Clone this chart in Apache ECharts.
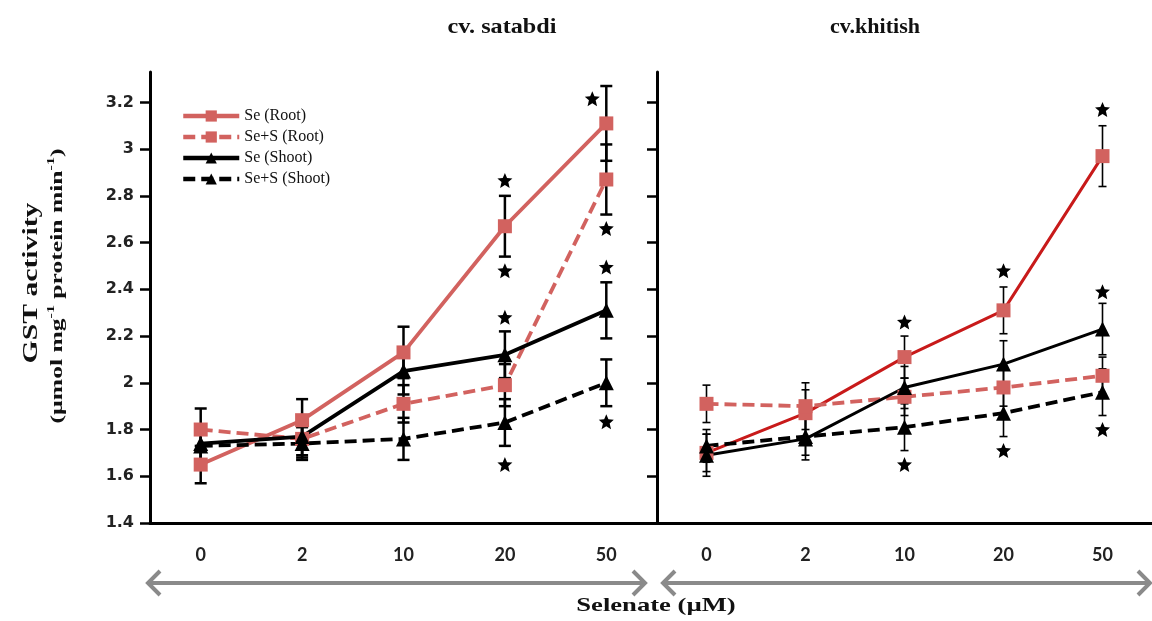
<!DOCTYPE html>
<html>
<head>
<meta charset="utf-8">
<script src="https://cdn.jsdelivr.net/npm/echarts@6/dist/echarts.min.js"></script>
<style>html,body{margin:0;padding:0;background:#fff}#c{width:1152px;height:621px}</style>
</head>
<body>
<div id="c"></div>
<script>
var categories = ['0', '2', '10', '20', '50'];
var yTicks = [1.4, 1.6, 1.8, 2.0, 2.2, 2.4, 2.6, 2.8, 3.0, 3.2];

// cv. satabdi
var satSeRoot    = [1.65, 1.84, 2.13, 2.67, 3.11];
var satSeSRoot   = [1.80, 1.76, 1.91, 1.99, 2.87];
var satSeShoot   = [1.74, 1.77, 2.05, 2.12, 2.31];
var satSeSShoot  = [1.73, 1.74, 1.76, 1.83, 2.00];
var satErrSeRoot   = [0.08, 0.09, 0.11, 0.13, 0.16];
var satErrSeSRoot  = [0.09, 0.08, 0.08, 0.09, 0.15];
var satErrSeShoot  = [0.08, 0.08, 0.10, 0.10, 0.12];
var satErrSeSShoot = [0.07, 0.07, 0.09, 0.10, 0.10];
var satStars = [[3, 2.866], [3, 2.48], [3, 2.28], [3, 1.65], [4, 2.66], [4, 2.495], [4, 1.833]];
var satStarsShifted = [[4, 3.216]];

// cv. khitish
var khiSeRoot    = [1.70, 1.87, 2.11, 2.31, 2.97];
var khiSeSRoot   = [1.91, 1.90, 1.94, 1.98, 2.03];
var khiSeShoot   = [1.69, 1.76, 1.98, 2.08, 2.23];
var khiSeSShoot  = [1.73, 1.77, 1.81, 1.87, 1.96];
var khiErrSeRoot   = [0.08, 0.10, 0.09, 0.10, 0.13];
var khiErrSeSRoot  = [0.08, 0.10, 0.08, 0.08, 0.08];
var khiErrSeShoot  = [0.09, 0.09, 0.09, 0.10, 0.11];
var khiErrSeSShoot = [0.07, 0.08, 0.10, 0.10, 0.10];
var khiStars = [[2, 2.26], [2, 1.65], [3, 2.48], [3, 1.71], [4, 3.17], [4, 2.39], [4, 1.80]];

var SALMON = '#D2625F';
var RED = '#C81A1A';
var STAR = 'path://M50,0 L64,32 L99,35 L72,58 L81,95 L50,76 L19,95 L28,58 L1,35 L36,32 Z';

function errData(vals, errs) {
  return vals.map(function (v, i) { return [i, v - errs[i], v + errs[i]]; });
}
function errSeries(vals, errs, idx, cap, lw) {
  return {
    type: 'custom', xAxisIndex: idx, yAxisIndex: idx, z: 3, silent: true,
    data: errData(vals, errs),
    renderItem: function (params, api) {
      var lo = api.coord([api.value(0), api.value(1)]);
      var hi = api.coord([api.value(0), api.value(2)]);
      var st = { stroke: '#000', lineWidth: lw };
      return { type: 'group', children: [
        { type: 'line', shape: { x1: lo[0], y1: lo[1], x2: hi[0], y2: hi[1] }, style: st },
        { type: 'line', shape: { x1: lo[0] - cap, y1: lo[1], x2: lo[0] + cap, y2: lo[1] }, style: st },
        { type: 'line', shape: { x1: hi[0] - cap, y1: hi[1], x2: hi[0] + cap, y2: hi[1] }, style: st }
      ]};
    }
  };
}
function lineSeries(name, vals, idx, color, symColor, symbol, dashed, lw) {
  return {
    name: name, type: 'line', xAxisIndex: idx, yAxisIndex: idx, data: vals, z: 4,
    symbol: symbol, symbolSize: symbol === 'rect' ? 14 : 15,
    itemStyle: { color: symColor },
    lineStyle: { color: color, width: lw, type: dashed ? [12, 6] : 'solid' },
    animation: false
  };
}
function starSeries(data, idx, offset) {
  return { type: 'scatter', xAxisIndex: idx, yAxisIndex: idx, data: data, symbol: STAR, symbolSize: 15,
    symbolOffset: offset || [0, 0], itemStyle: { color: '#000', opacity: 1 }, z: 5, silent: true };
}
function xAxis(idx) {
  return {
    type: 'category', gridIndex: idx, data: categories, boundaryGap: true,
    axisLine: { lineStyle: { color: '#000', width: 3 } },
    axisTick: { alignWithLabel: true, length: 10, lineStyle: { color: '#000', width: 2.5 } },
    axisLabel: { margin: 23, color: '#222', fontFamily: '"Liberation Sans Narrow", Lato', fontWeight: 'bold', fontSize: 18 },
    splitLine: { show: false }
  };
}
function yAxis(idx, showLabels) {
  return {
    type: 'value', gridIndex: idx, min: 1.4, max: 3.33,
    axisLine: { show: true, lineStyle: { color: '#000', width: 3 } },
    axisTick: { show: true, length: 10, customValues: yTicks, lineStyle: { color: '#000', width: 2.5 } },
    axisLabel: { show: showLabels, customValues: yTicks, margin: 16, color: '#222', fontFamily: '"DejaVu Sans"', fontWeight: 'bold', fontSize: 16 },
    splitLine: { show: false }
  };
}

var serif = '"Liberation Serif", "DejaVu Serif", serif';
var GRAY = '#8a8a8a';
function arrowPart(points) {
  return { type: 'polyline', shape: { points: points }, style: { stroke: GRAY, lineWidth: 4, fill: null, lineJoin: 'miter' } };
}
var chart = echarts.init(document.getElementById('c'));
chart.setOption({
  animation: false,
  backgroundColor: '#fff',
  grid: [
    { left: 150, top: 72, width: 507, height: 451 },
    { left: 657, top: 72, width: 504, height: 451 }
  ],
  xAxis: [xAxis(0), xAxis(1)],
  yAxis: [yAxis(0, true), yAxis(1, false)],
  legend: {
    orient: 'vertical', left: 176, top: 103, itemWidth: 56, itemHeight: 14, itemGap: 5,
    lineStyle: { width: 4.5 },
    textStyle: { fontFamily: serif, fontSize: 16, color: '#111' },
    data: ['Se (Root)', 'Se+S (Root)', 'Se (Shoot)', 'Se+S (Shoot)']
  },
  series: [
    errSeries(satSeRoot, satErrSeRoot, 0, 6, 2.5),
    errSeries(satSeSRoot, satErrSeSRoot, 0, 6, 2.5),
    errSeries(satSeShoot, satErrSeShoot, 0, 6, 2.5),
    errSeries(satSeSShoot, satErrSeSShoot, 0, 6, 2.5),
    lineSeries('Se (Root)', satSeRoot, 0, SALMON, SALMON, 'rect', false, 3.8),
    lineSeries('Se+S (Root)', satSeSRoot, 0, SALMON, SALMON, 'rect', true, 3.8),
    lineSeries('Se (Shoot)', satSeShoot, 0, '#000', '#000', 'triangle', false, 3.8),
    lineSeries('Se+S (Shoot)', satSeSShoot, 0, '#000', '#000', 'triangle', true, 3.8),
    errSeries(khiSeRoot, khiErrSeRoot, 1, 4, 1.6),
    errSeries(khiSeSRoot, khiErrSeSRoot, 1, 4, 1.6),
    errSeries(khiSeShoot, khiErrSeShoot, 1, 4, 1.6),
    errSeries(khiSeSShoot, khiErrSeSShoot, 1, 4, 1.6),
    lineSeries('khitish Se (Root)', khiSeRoot, 1, RED, SALMON, 'rect', false, 3),
    lineSeries('khitish Se+S (Root)', khiSeSRoot, 1, SALMON, SALMON, 'rect', true, 3.8),
    lineSeries('khitish Se (Shoot)', khiSeShoot, 1, '#000', '#000', 'triangle', false, 3),
    lineSeries('khitish Se+S (Shoot)', khiSeSShoot, 1, '#000', '#000', 'triangle', true, 3.8),
    starSeries(satStars, 0),
    starSeries(satStarsShifted, 0, [-14, 0]),
    starSeries(khiStars, 1)
  ],
  graphic: [
    { type: 'text', x: 502, y: 27, scaleX: 1.1, style: { text: 'cv. satabdi', font: 'bold 22px ' + serif, fill: '#111', align: 'center', verticalAlign: 'middle' } },
    { type: 'text', x: 875, y: 27, scaleX: 1.0, style: { text: 'cv.khitish', font: 'bold 22px ' + serif, fill: '#111', align: 'center', verticalAlign: 'middle' } },
    { type: 'text', x: 31, y: 283, rotation: Math.PI / 2, scaleX: 1.35,
      style: { text: 'GST activity', font: 'bold 22px ' + serif, fill: '#111', align: 'center', verticalAlign: 'middle' } },
    { type: 'text', x: 56, y: 286, rotation: Math.PI / 2, scaleX: 1.6,
      style: { text: '{n|(\u00b5mol mg}{s|-1}{n| protein min}{s|-1}{n|)}', align: 'center', verticalAlign: 'middle', fill: '#111',
        rich: { n: { font: 'bold 16px ' + serif, fill: '#111', lineHeight: 19, verticalAlign: 'bottom' },
                s: { font: 'bold 10px ' + serif, fill: '#111', lineHeight: 19, verticalAlign: 'top' } } } },
    arrowPart([[148, 583], [645, 583]]),
    arrowPart([[160, 571], [148, 583], [160, 595]]),
    arrowPart([[633, 571], [645, 583], [633, 595]]),
    arrowPart([[663, 583], [1150, 583]]),
    arrowPart([[675, 571], [663, 583], [675, 595]]),
    arrowPart([[1138, 571], [1150, 583], [1138, 595]]),
    { type: 'text', x: 656, y: 606, scaleX: 1.4, style: { text: 'Selenate (\u00b5M)', font: 'bold 19px ' + serif, fill: '#111', align: 'center', verticalAlign: 'middle' } }
  ]
});
</script>
</body>
</html>
